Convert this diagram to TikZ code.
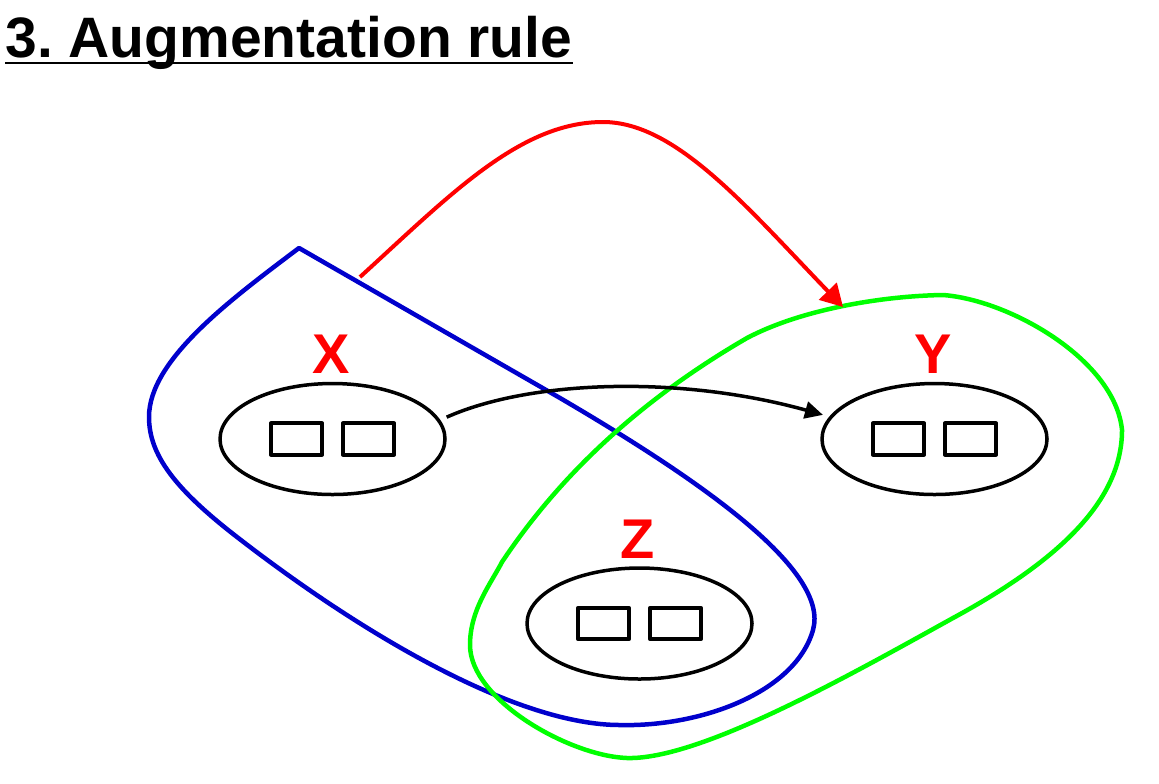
\documentclass[tikz,border=0pt]{standalone}
\usepackage{fontspec}
\setmainfont{Liberation Sans}
\usetikzlibrary{shapes.geometric, arrows.meta}
\definecolor{blueline}{RGB}{0,0,204}
\definecolor{greenline}{RGB}{0,255,0}

\begin{document}
\begin{tikzpicture}[x=0.5pt, y=-0.5pt,
                    line join=round,
                    set/.style={draw, ellipse, line width=1.75pt, minimum width=112.5pt, minimum height=55.5pt, inner sep=0pt},
                    cell/.style={draw, rectangle, line width=1.9pt, minimum width=25.5pt, minimum height=15.7pt, inner sep=0pt},
                    setname/.style={text=red, anchor=base, inner sep=0pt, font=\fontsize{28}{30}\selectfont\bfseries},
                    lhs/.style={draw=blueline, line width=2.25pt},
                    rhs/.style={draw=greenline, line width=2.25pt}
                    ]
    \useasboundingbox (0,0) rectangle (1159,783);

    % title
    \node[anchor=base west, inner sep=0pt, font=\fontsize{28.5}{30}\selectfont\bfseries] (title) at (5,57) {3.\ Augmentation rule};
    \draw[line width=1.25pt] ([yshift=-3pt]title.base west) -- ([yshift=-3pt]title.base east);

    % the three sets
    \node[set] (X) at (332.5,439) {};
    \node[set] (Y) at (934.5,439) {};
    \node[set] (Z) at (639.5,623.5) {};
    \foreach \s in {X,Y,Z} {
        \node[cell] (\s1) at ([xshift=-18pt]\s.center) {};
        \node[cell] (\s2) at ([xshift=18pt]\s.center) {};
    }

    \node[setname] (xname) at (331,373) {X};
    \node[setname] (yname) at (933,373) {Y};
    \node[setname] (zname) at (638,558) {Z};

    % XZ on the left, YZ on the right
    \coordinate (lhstip) at (299,248);
    \coordinate (rhstip) at (502,562);

    \draw[lhs] (lhstip) -- (560,398)
        .. controls (700,480) and (830,570) .. (813,630)
        .. controls (795,693) and (700,727) .. (620,725)
        .. controls (520,725) and (370,640) .. (237,537)
        .. controls (175,489) and (149,455) .. (149,417)
        .. controls (149,360) and (230,300) .. (lhstip) -- cycle;

    \draw[rhs] (rhstip)
        .. controls (560,475) and (640,400) .. (747,338)
        .. controls (800,310) and (880,296) .. (943,295)
        .. controls (1010,300) and (1115,360) .. (1122,430)
        .. controls (1122,500) and (1060,560) .. (953,618)
        .. controls (850,675) and (700,760) .. (627,758)
        .. controls (570,756) and (470,700) .. (470,645)
        .. controls (470,610) and (490,585) .. (rhstip) -- cycle;

    % the arrows
    \coordinate (lhsout) at (360,277);
    \coordinate (rhsin) at (843,307);

    \draw[line width=1.75pt, -{Triangle[length=9pt, width=8.5pt]}, shorten <=3.5pt, shorten >=3.3pt]
        (X.10) .. controls (530,380) and (680,375) .. (Y.168);

    \draw[red, line width=2pt, -{Triangle[length=11pt, width=12pt]}]
        (lhsout) .. controls (450,195) and (520,122) .. (603,122)
        .. controls (675,122) and (745,205) .. (rhsin);
\end{tikzpicture}
\end{document}
